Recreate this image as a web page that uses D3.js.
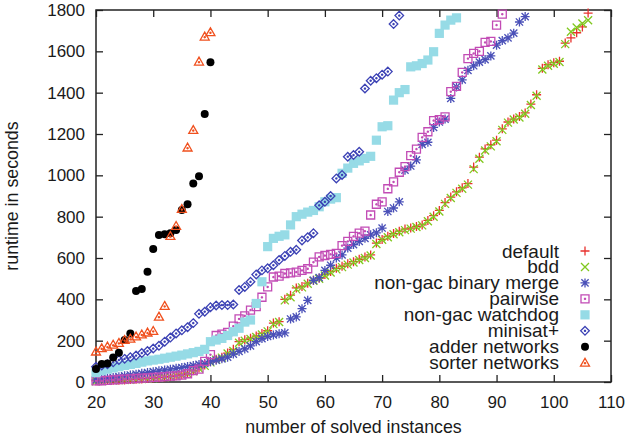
<!DOCTYPE html>
<html>
<head>
<meta charset="utf-8">
<script src="https://cdn.jsdelivr.net/npm/d3@7"></script>
<style>
    body { margin: 0; background: #fff; }
    svg text { font-family: "Liberation Sans", Arial, Helvetica, sans-serif; fill: #1a1a1a; }
</style>
</head>
<body>
<svg id="chart" width="629" height="439"></svg>
<script>
// cactus plot: value i of each series is the runtime of the (firstInstance + i)-th solved instance
var firstInstance = 20;

var xTicks = [20, 30, 40, 50, 60, 70, 80, 90, 100, 110];
var yTicks = [0, 200, 400, 600, 800, 1000, 1200, 1400, 1600, 1800];

var legendLabels = ["default", "bdd", "non-gac binary merge", "pairwise",
    "non-gac watchdog", "minisat+", "adder networks", "sorter networks"];

var defaultRuntimes = [5, 6, 7, 8, 9, 10, 12, 13, 15, 17, 19, 21, 24, 27, 30, 35, 42, 55, 68, 82,
    98, 110, 120, 140, 158, 195, 205, 212, 222, 235, 248, 285, 292, 400, 420, 455, 462, 478, 492, 502,
    520, 535, 550, 560, 572, 582, 594, 605, 615, 672, 690, 705, 718, 730, 740, 745, 752, 760, 782, 805,
    830, 868, 895, 920, 940, 960, 1040, 1088, 1128, 1148, 1170, 1225, 1258, 1272, 1285, 1302, 1345, 1390, 1518, 1535,
    1545, 1552, 1640, 1665, 1690, 1718, 1785];

var bddRuntimes = [4, 5, 6, 7, 9, 10, 11, 13, 14, 16, 18, 20, 23, 26, 30, 34, 40, 52, 65, 78,
    95, 108, 118, 138, 150, 190, 200, 208, 218, 230, 245, 280, 290, 395, 410, 448, 458, 475, 490, 500,
    515, 530, 545, 556, 568, 578, 590, 600, 612, 668, 688, 700, 715, 725, 735, 742, 750, 758, 778, 800,
    825, 862, 890, 915, 935, 955, 1030, 1080, 1120, 1140, 1165, 1220, 1255, 1270, 1280, 1298, 1340, 1385, 1512, 1530,
    1540, 1548, 1635, 1695, 1715, 1735, 1750];

var binaryMergeRuntimes = [10, 14, 18, 22, 26, 30, 34, 38, 42, 46, 50, 54, 58, 62, 66, 70, 75, 80, 85, 90,
    98, 105, 112, 120, 135, 148, 160, 175, 195, 210, 220, 228, 233, 238, 305, 315, 355, 395, 492, 505,
    540, 565, 600, 615, 648, 665, 680, 695, 712, 722, 745, 825, 842, 872, 1025, 1045, 1075, 1150, 1160, 1232,
    1258, 1272, 1372, 1428, 1462, 1508, 1530, 1548, 1560, 1578, 1630, 1652, 1665, 1688, 1742, 1768];

var pairwiseRuntimes = [5, 6, 8, 10, 12, 14, 15, 17, 19, 20, 22, 24, 26, 28, 30, 33, 40, 55, 62, 100,
    132, 225, 232, 240, 270, 305, 320, 348, 365, 410, 460, 508, 512, 525, 528, 532, 540, 548, 580, 605,
    612, 618, 622, 660, 680, 705, 720, 730, 808, 860, 872, 935, 968, 1015, 1042, 1095, 1127, 1184, 1211, 1265,
    1270, 1283, 1405, 1430, 1498, 1565, 1590, 1600, 1643, 1648, 1727, 1780];

var watchdogRuntimes = [45, 55, 62, 68, 74, 80, 85, 90, 96, 102, 106, 110, 115, 120, 125, 130, 136, 142, 148, 158,
    195, 203, 211, 225, 243, 260, 290, 300, 380, 485, 655, 695, 705, 712, 760, 800, 812, 822, 830, 848,
    872, 885, 892, 1010, 1035, 1058, 1070, 1082, 1092, 1170, 1235, 1240, 1364, 1400, 1415, 1525, 1530, 1541, 1558, 1598,
    1687, 1727, 1751, 1762];

var minisatRuntimes = [74, 80, 86, 95, 106, 112, 120, 128, 140, 150, 162, 175, 195, 215, 235, 250, 265, 285, 330, 340,
    362, 370, 372, 372, 375, 445, 460, 485, 520, 540, 550, 565, 590, 610, 630, 640, 685, 700, 720, 855,
    872, 900, 985, 1002, 1090, 1098, 1114, 1420, 1458, 1470, 1487, 1502, 1732, 1773];

var adderRuntimes = [63, 87, 90, 119, 142, 203, 235, 440, 450, 534, 643, 711, 715, 720, 735, 832, 860, 960, 995, 1297,
    1547];

var sorterRuntimes = [147, 163, 171, 180, 189, 203, 209, 220, 230, 239, 247, 316, 368, 706, 755, 837, 1134, 1219, 1550, 1671,
    1692];

// gnuplot-like point types
var shapes = {
    plus: { draw: function (c, r) { c.moveTo(-r, 0); c.lineTo(r, 0); c.moveTo(0, -r); c.lineTo(0, r); } },
    cross: { draw: function (c, r) { c.moveTo(-r, -r); c.lineTo(r, r); c.moveTo(-r, r); c.lineTo(r, -r); } },
    star: { draw: function (c, r) {
        var k = r * 0.8;
        c.moveTo(-r, 0); c.lineTo(r, 0); c.moveTo(0, -r); c.lineTo(0, r);
        c.moveTo(-k, -k); c.lineTo(k, k); c.moveTo(-k, k); c.lineTo(k, -k);
    } },
    box: { draw: function (c, r) {
        c.rect(-r, -r, 2 * r, 2 * r);
        c.moveTo(0.6, 0); c.arc(0, 0, 0.6, 0, 2 * Math.PI);
    } },
    fbox: { draw: function (c, r) { c.rect(-r, -r, 2 * r, 2 * r); } },
    diamond: { draw: function (c, r) {
        c.moveTo(0, -r); c.lineTo(r, 0); c.lineTo(0, r); c.lineTo(-r, 0); c.closePath();
        c.moveTo(0.6, 0); c.arc(0, 0, 0.6, 0, 2 * Math.PI);
    } },
    circle: { draw: function (c, r) { c.moveTo(r, 0); c.arc(0, 0, r, 0, 2 * Math.PI); } },
    triangle: { draw: function (c, r) {
        c.moveTo(0, -r); c.lineTo(r, r * 0.75); c.lineTo(-r, r * 0.75); c.closePath();
        c.moveTo(0.6, 0.5); c.arc(0, 0.5, 0.6, 0, 2 * Math.PI);
    } }
};

var series = [
    { values: defaultRuntimes, color: "#e8322e", shape: shapes.plus, r: 4.5, filled: false },
    { values: bddRuntimes, color: "#80c81e", shape: shapes.cross, r: 4, filled: false },
    { values: binaryMergeRuntimes, color: "#4a50b8", shape: shapes.star, r: 4.5, filled: false },
    { values: pairwiseRuntimes, color: "#c24bb5", shape: shapes.box, r: 4, filled: false },
    { values: watchdogRuntimes, color: "#96dbe6", shape: shapes.fbox, r: 4.6, filled: true },
    { values: minisatRuntimes, color: "#3c42b5", shape: shapes.diamond, r: 4.3, filled: false },
    { values: adderRuntimes, color: "#000000", shape: shapes.circle, r: 4, filled: true },
    { values: sorterRuntimes, color: "#f0501e", shape: shapes.triangle, r: 4.5, filled: false }
];

var plotLeft = 96, plotRight = 611, plotTop = 10, plotBottom = 382;

var svg = d3.select("#chart");

var x = d3.scaleLinear().domain([20, 110]).range([plotLeft, plotRight]);
var y = d3.scaleLinear().domain([0, 1800]).range([plotBottom, plotTop]);

// axes with inward ticks, mirrored on top and right
svg.append("g")
    .attr("class", "axis")
    .attr("transform", "translate(0," + plotBottom + ")")
    .call(d3.axisBottom(x).tickValues(xTicks).tickSize(-7).tickPadding(14).tickFormat(d3.format("d")));

svg.append("g")
    .attr("class", "axis")
    .attr("transform", "translate(" + plotLeft + ",0)")
    .call(d3.axisLeft(y).tickValues(yTicks).tickSize(-7).tickPadding(11).tickFormat(d3.format("d")));

svg.append("g")
    .attr("class", "axis")
    .attr("transform", "translate(0," + plotTop + ")")
    .call(d3.axisTop(x).tickValues(xTicks).tickSize(-7).tickFormat(""));

svg.append("g")
    .attr("class", "axis")
    .attr("transform", "translate(" + plotRight + ",0)")
    .call(d3.axisRight(y).tickValues(yTicks).tickSize(-7).tickFormat(""));

svg.selectAll(".axis .domain").remove();
svg.selectAll(".axis line").attr("stroke", "#222").attr("stroke-width", 1.3);
svg.selectAll(".axis text")
    .attr("font-size", 17)
    .attr("font-family", "Liberation Sans, Arial, sans-serif")
    .attr("fill", "#1a1a1a");

svg.append("rect")
    .attr("x", plotLeft)
    .attr("y", plotTop)
    .attr("width", plotRight - plotLeft)
    .attr("height", plotBottom - plotTop)
    .attr("fill", "none")
    .attr("stroke", "#222")
    .attr("stroke-width", 1.5);

// axis titles
svg.append("text")
    .attr("x", (plotLeft + plotRight) / 2)
    .attr("y", 433)
    .attr("text-anchor", "middle")
    .attr("font-size", 17.8)
    .text("number of solved instances");

svg.append("text")
    .attr("transform", "translate(18," + ((plotTop + plotBottom) / 2) + ") rotate(-90)")
    .attr("text-anchor", "middle")
    .attr("font-size", 17.8)
    .text("runtime in seconds");

function marker(s) {
    return d3.symbol().type(s.shape).size(s.r)();
}

function styleMarker(sel, s) {
    sel.attr("d", marker(s))
        .attr("fill", s.filled ? s.color : "none")
        .attr("stroke", s.filled ? "none" : s.color)
        .attr("stroke-width", 1.3);
}

var plot = svg.append("g").attr("class", "points");

series.forEach(function (s) {
    plot.append("g").selectAll("path").data(s.values)
        .enter().append("path")
        .attr("transform", function (d, i) {
            return "translate(" + x(firstInstance + i) + "," + y(d) + ")";
        })
        .call(styleMarker, s);
});

// key in the lower right corner
var legend = svg.append("g").attr("class", "legend");
var rowY = d3.scaleLinear().domain([0, 7]).range([251, 362.7]);

legendLabels.forEach(function (label, i) {
    legend.append("text")
        .attr("x", 559)
        .attr("y", rowY(i) + 6.5)
        .attr("text-anchor", "end")
        .attr("font-size", 19)
        .text(label);
    legend.append("path")
        .attr("transform", "translate(585," + rowY(i) + ")")
        .call(styleMarker, series[i]);
});
</script>
</body>
</html>
